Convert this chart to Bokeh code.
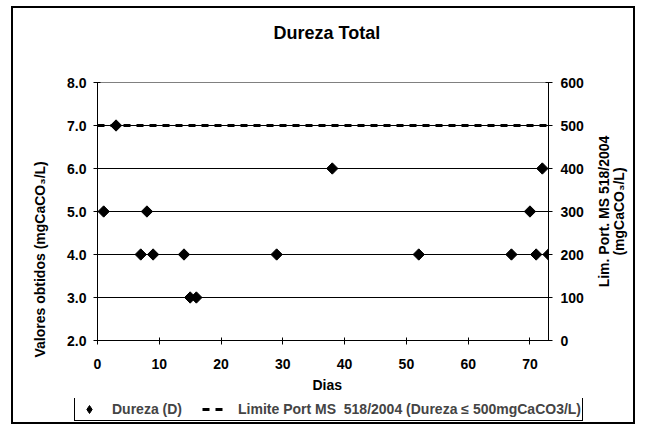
import math
from bokeh.plotting import figure
from bokeh.layouts import column, row
from bokeh.models import (Range1d, LinearAxis, FixedTicker, NumeralTickFormatter,
                          Legend, LegendItem, Title, Label, InlineStyleSheet)
from bokeh.embed import file_html
from bokeh.resources import INLINE

# ---- data ----
days = [1, 3, 7, 8, 9, 14, 15, 16, 29, 38, 52, 67, 70, 71, 72, 73]
dureza = [5.0, 7.0, 4.0, 5.0, 4.0, 4.0, 3.0, 3.0, 4.0, 6.0, 4.0, 4.0, 5.0, 4.0, 6.0, 4.0]
limit_days = [0, 73]
limit_values = [500, 500]
x_ticks = [0, 10, 20, 30, 40, 50, 60, 70]
left_ticks = [2, 3, 4, 5, 6, 7, 8]
right_ticks = [0, 100, 200, 300, 400, 500, 600]
grid_levels = [3, 4, 5, 6, 7]

title_text = "Dureza Total"
x_label = "Dias"
left_label = "Valores obtidos (mgCaCO\u2083/L)"
right_label_1 = "Lim. Port. MS 518/2004"
right_label_2 = "(mgCaCO\u2083/L)"
legend_1 = "Dureza (D)"
legend_2 = "Limite Port MS  518/2004 (Dureza \u2264 500mgCaCO3/L)"

FONT = "Liberation Sans"
W = 636
W_MAIN = 590
H_MAIN = 398
H_LEG = 27


def tryset(obj, **kw):
    for k, v in kw.items():
        try:
            setattr(obj, k, v)
        except Exception:
            pass


p = figure(width=W_MAIN, height=H_MAIN, output_backend="svg", toolbar_location=None,
           x_range=Range1d(0, 73), y_range=Range1d(2, 8),
           min_border_left=97, min_border_right=W_MAIN - 548, min_border_top=82,
           min_border_bottom=H_MAIN - 340)
tryset(p, frame_align=False)
p.extra_y_ranges = {"right": Range1d(0, 600)}
p.background_fill_color = "white"
p.border_fill_color = "white"
p.outline_line_color = "#808080"
p.outline_line_width = 1

# spacer between frame and title, then the title (outermost)
spacer = Title(text=" ", text_font_size="1px", align="left")
tryset(spacer, standoff=32)
p.add_layout(spacer, "above")

p.title.text = title_text
p.title.align = "left"
p.title.offset = 176
p.title.text_font = FONT
p.title.text_font_style = "bold"
p.title.text_font_size = "18px"
p.title.text_color = "black"
tryset(p.title, standoff=10)

# axes
xa = p.xaxis[0]
xa.ticker = FixedTicker(ticks=x_ticks)
ya = p.yaxis[0]
ya.ticker = FixedTicker(ticks=left_ticks)
ya.formatter = NumeralTickFormatter(format="0.0")
ra = LinearAxis(y_range_name="right", ticker=FixedTicker(ticks=right_ticks))
p.add_layout(ra, "right")

for ax, standoff in ((xa, 14), (ya, 7), (ra, 8)):
    ax.axis_line_color = "black"
    ax.axis_line_width = 1
    ax.major_tick_line_color = "black"
    ax.major_tick_in = 3
    ax.major_tick_out = 4
    ax.minor_tick_line_color = None
    ax.major_label_text_font = FONT
    ax.major_label_text_font_style = "bold"
    ax.major_label_text_font_size = "14px"
    ax.major_label_text_color = "black"
    ax.major_label_standoff = standoff

p.xgrid.grid_line_color = None
p.ygrid.ticker = FixedTicker(ticks=grid_levels)
p.ygrid.grid_line_color = "black"
p.ygrid.grid_line_width = 1

# left axis title (side-panel title, shifted like the reference)
lt = Title(text=left_label, align="left", offset=-17, text_font=FONT,
           text_font_style="bold", text_font_size="14px", text_color="black")
tryset(lt, standoff=33)
p.add_layout(lt, "left")

# x axis title
bt = Title(text=x_label, align="left", offset=215, text_font=FONT,
           text_font_style="bold", text_font_size="14px", text_color="black")
tryset(bt, standoff=7)
p.add_layout(bt, "below")

# series
p.line(limit_days, limit_values, y_range_name="right", line_dash="7 6",
       line_width=3, line_color="black")
p.scatter(days, dureza, marker="square", angle=math.pi / 4, size=8,
          fill_color="black", line_color="black")

# ---- right strip holding the secondary axis title ----
pr = figure(width=W - W_MAIN, height=H_MAIN, output_backend="svg",
            toolbar_location=None, x_range=Range1d(0, 1), y_range=Range1d(0, 1),
            min_border=0, x_axis_location=None, y_axis_location=None)
tryset(pr, frame_align=False)
pr.outline_line_color = None
pr.background_fill_color = "white"
pr.border_fill_color = "white"
for g in pr.grid:
    g.visible = False
for xx, txt in ((13, right_label_1), (28, right_label_2)):
    pr.add_layout(Label(x=xx, y=H_MAIN - 211, x_units="screen", y_units="screen",
                        text=txt, angle=math.pi / 2, text_align="center",
                        text_baseline="middle", text_font=FONT,
                        text_font_style="bold", text_font_size="14px",
                        text_color="black"))

# ---- legend strip (its own small figure; sample glyphs lie outside its view) ----
pl = figure(width=W, height=H_LEG, output_backend="svg", toolbar_location=None,
            x_range=Range1d(-1000, -999), y_range=Range1d(-1000, -999),
            min_border=0, x_axis_location=None, y_axis_location=None)
tryset(pl, frame_align=False)
pl.outline_line_color = None
pl.background_fill_color = "white"
pl.border_fill_color = "white"
for g in pl.grid:
    g.visible = False
lr1 = pl.scatter(days, dureza, marker="diamond", size=12,
                 fill_color="black", line_color="black")
lr2 = pl.line(limit_days, limit_values, line_dash="7 6", line_width=3,
              line_color="black")
legend = Legend(items=[LegendItem(label=legend_1, renderers=[lr1]),
                       LegendItem(label=legend_2, renderers=[lr2])],
                orientation="horizontal", location=(74, 4), padding=1,
                spacing=20, glyph_width=26, glyph_height=20, label_height=20,
                label_standoff=10, label_text_font=FONT,
                label_text_font_style="bold", label_text_font_size="14px",
                border_line_color="black", border_line_width=1,
                border_line_alpha=1, background_fill_color="white",
                background_fill_alpha=1, margin=0)
pl.add_layout(legend, "center")

layout = column(row(p, pr, spacing=0), pl, spacing=0)
# outer chart border drawn with CSS (does not change layout)
layout.stylesheets = [InlineStyleSheet(css="""
:host { position: relative; }
:host::after {
  content: ""; position: absolute; left: 11px; top: 6px; right: 1px; bottom: 1px;
  border: 2px solid #000; box-sizing: border-box; pointer-events: none; z-index: 50;
}
""")]

open("out.html", "w").write(file_html(layout, INLINE))
